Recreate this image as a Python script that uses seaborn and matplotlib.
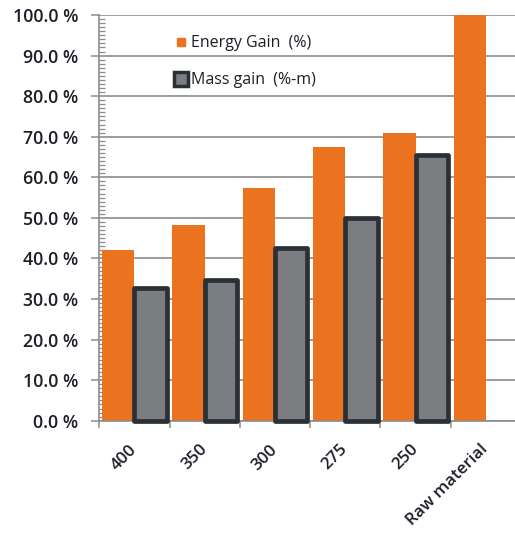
import matplotlib
matplotlib.use("Agg")
import matplotlib.pyplot as plt
from matplotlib.lines import Line2D
from matplotlib.ticker import MultipleLocator, FixedLocator, NullFormatter
import numpy as np
import pandas as pd
import seaborn as sns

categories = ["400", "350", "300", "275", "250", "Raw material"]
energy_gain = [42.0, 48.3, 57.3, 67.4, 71.0, 100.0]
mass_gain = [32.7, 34.7, 42.6, 50.0, 65.4, np.nan]
series_names = ["Energy Gain  (%)", "Mass gain  (%-m)"]
y_ticks = [0, 10, 20, 30, 40, 50, 60, 70, 80, 90, 100]

ORANGE = "#EB731F"
GRAY_FILL = "#7B7D80"
GRAY_EDGE = "#2A3036"
GRID = "#8C8C8C"
TEXT = "#1E1E28"

df = pd.DataFrame({
    "temp": categories * 2,
    "series": [series_names[0]] * len(categories) + [series_names[1]] * len(categories),
    "value": energy_gain + mass_gain,
})

sns.set_theme(style="white")
plt.rcParams["font.family"] = ["Open Sans", "DejaVu Sans"]

fig = plt.figure(figsize=(5.15, 5.33), dpi=100)
ax = fig.add_axes([99.3 / 515, 112.3 / 533, 421.7 / 515, 405.7 / 533])

sns.barplot(data=df, x="temp", y="value", hue="series", order=categories,
            hue_order=series_names, palette=[ORANGE, GRAY_FILL],
            width=0.92, gap=0, saturation=1, errorbar=None, ax=ax, legend=False)

# Energy bars: flat orange, no outline
for p in ax.containers[0]:
    p.set_edgecolor("none")
    p.set_zorder(2)
# Mass bars: gray with thick dark rounded outline
for p in ax.containers[1]:
    p.set_edgecolor(GRAY_EDGE)
    p.set_linewidth(3.4)
    p.set_joinstyle("round")
    p.set_zorder(3)
    p.set_clip_on(False)

ax.set_xlim(-0.5, len(categories) - 0.5)
ax.set_ylim(0, 100)

# y axis: major ticks outward, minor ticks inward
ax.yaxis.set_major_locator(FixedLocator(y_ticks))
ax.set_yticklabels([f"{v:.1f} %" for v in y_ticks])
ax.yaxis.set_minor_locator(MultipleLocator(1))
ax.tick_params(axis="y", which="major", direction="out", length=6, width=1.1,
               color=GRID, pad=9, labelsize=12.8, labelcolor=TEXT, left=True)
ax.tick_params(axis="y", which="minor", direction="in", length=4, width=0.9,
               color=GRID, left=True)
for lab in ax.get_yticklabels():
    lab.set_fontweight("semibold")

# x axis: ticks between categories, labels at category centers
ax.xaxis.set_major_locator(FixedLocator(np.arange(-0.5, len(categories) + 0.5, 1.0)))
ax.xaxis.set_major_formatter(NullFormatter())
ax.xaxis.set_minor_locator(FixedLocator(np.arange(len(categories))))
ax.set_xticklabels(categories, minor=True)
ax.tick_params(axis="x", which="major", direction="out", length=5, width=1.1,
               color=GRID, bottom=True)
ax.tick_params(axis="x", which="minor", length=0, pad=19, labelsize=12.2,
               labelcolor=TEXT, bottom=True)
for lab in ax.get_xticklabels(minor=True):
    lab.set_rotation(45)
    lab.set_ha("right")
    lab.set_va("center")
    lab.set_rotation_mode("anchor")
    lab.set_fontweight("semibold")

ax.set_xlabel("")
ax.set_ylabel("")

ax.yaxis.grid(True, color=GRID, linewidth=1.2, zorder=0)
ax.set_axisbelow(True)
for side in ["top", "right"]:
    ax.spines[side].set_visible(False)
for side in ["left", "bottom"]:
    ax.spines[side].set_color(GRID)
    ax.spines[side].set_linewidth(1.2)

handles = [
    Line2D([], [], linestyle="none", marker="s", markersize=6,
           markerfacecolor=ORANGE, markeredgecolor=ORANGE),
    Line2D([], [], linestyle="none", marker="s", markersize=10,
           markerfacecolor=GRAY_FILL, markeredgecolor=GRAY_EDGE, markeredgewidth=2.5),
]
ax.legend(handles, series_names, loc="upper left", bbox_to_anchor=(0.14, 0.985),
          frameon=False, fontsize=11.5, labelspacing=1.3, handlelength=1.0,
          handletextpad=0.15, labelcolor=TEXT)

fig.savefig("out.png", dpi=100, facecolor="white")
